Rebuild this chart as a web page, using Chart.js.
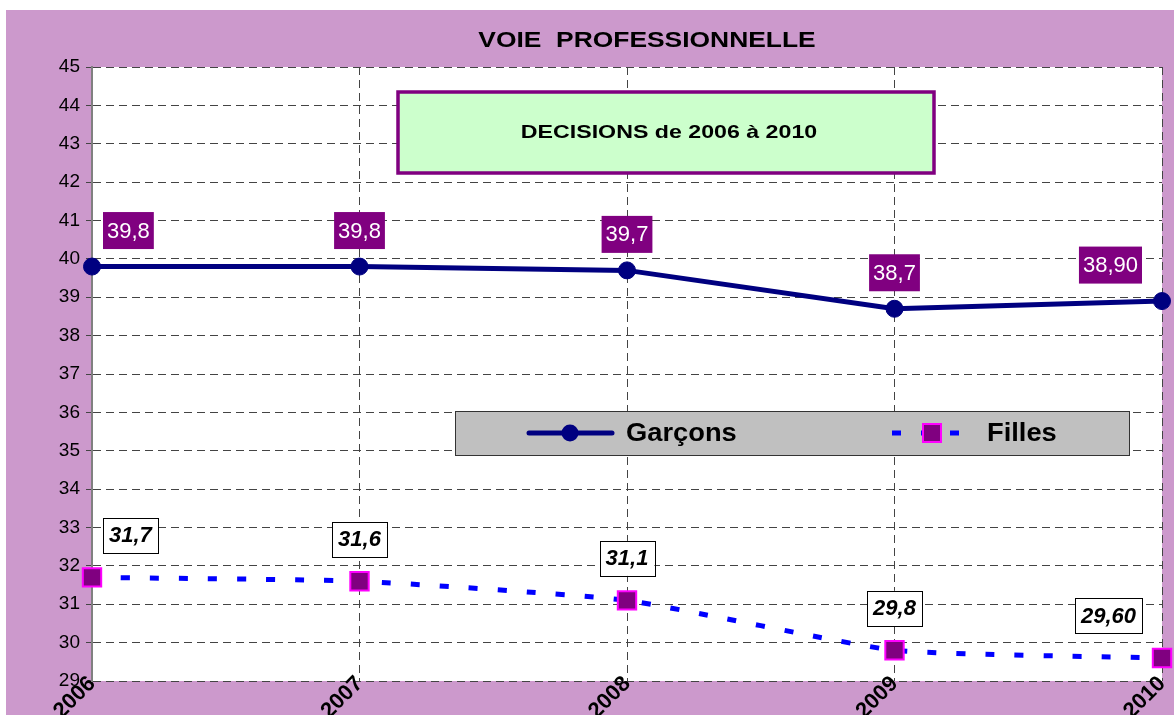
<!DOCTYPE html>
<html>
<head>
<meta charset="utf-8">
<script src="https://cdn.jsdelivr.net/npm/chart.js@4.4.1/dist/chart.umd.min.js"></script>
<style>
  html, body { margin: 0; padding: 0; background: #fff; }
  #wrap { position: absolute; left: 6px; top: 10px; width: 1168px; height: 705px; background: #cc99cc; }
</style>
</head>
<body>
<div id="wrap"><canvas id="myChart" width="1168" height="705"></canvas></div>
<script>
let years = ["2006", "2007", "2008", "2009", "2010"];
let garcons = [39.8, 39.8, 39.7, 38.7, 38.9];
let filles = [31.7, 31.6, 31.1, 29.8, 29.6];
let garconsLabels = ["39,8", "39,8", "39,7", "38,7", "38,90"];
let fillesLabels = ["31,7", "31,6", "31,1", "29,8", "29,60"];
let yMin = 29;
let yMax = 45;

let ctx = document.getElementById("myChart");
const FONT = "'Liberation Sans', Arial, sans-serif";
Chart.defaults.font.family = FONT;

// text drawn a bit wider, like the original export
function wideText(c, text, x, y, font, sx, align) {
  c.save();
  c.font = font;
  c.textAlign = align || "center";
  c.textBaseline = "middle";
  c.fillStyle = "#000";
  c.translate(x, y);
  c.scale(sx, 1);
  c.fillText(text, 0, 0);
  c.restore();
}

const bgPlugin = {
  id: "bg",
  beforeDraw(chart) {
    const { ctx: c, chartArea: a } = chart;
    c.save();
    c.fillStyle = "#fff";
    c.fillRect(a.left, a.top, a.right - a.left, a.bottom - a.top);
    c.restore();
  },
};

const labelPlugin = {
  id: "valueLabels",
  afterDatasetsDraw(chart) {
    const { ctx: c, chartArea: a } = chart;
    const sets = [
      { texts: garconsLabels, meta: chart.getDatasetMeta(0), fill: "#800080", stroke: null, color: "#fff",
        font: "22px " + FONT, padX: 4, h: 37, dy: -36 },
      { texts: fillesLabels, meta: chart.getDatasetMeta(1), fill: "#fff", stroke: "#000", color: "#000",
        font: "italic bold 22px " + FONT, padX: 6, h: 35, dy: -42 },
    ];
    sets.forEach((s) => {
      s.meta.data.forEach((pt, i) => {
        c.save();
        c.font = s.font;
        const w = c.measureText(s.texts[i]).width + s.padX * 2;
        let cx = pt.x;
        if (cx - w / 2 < a.left + 11) cx = a.left + 11 + w / 2;
        if (cx + w / 2 > a.right - 20) cx = a.right - 20 - w / 2;
        const cy = pt.y + s.dy;
        c.fillStyle = s.fill;
        c.fillRect(cx - w / 2, cy - s.h / 2, w, s.h);
        if (s.stroke) {
          c.strokeStyle = s.stroke;
          c.lineWidth = 1;
          c.strokeRect(Math.round(cx - w / 2) + 0.5, Math.round(cy - s.h / 2) + 0.5, Math.round(w), s.h);
        }
        c.fillStyle = s.color;
        c.textAlign = "center";
        c.textBaseline = "middle";
        c.fillText(s.texts[i], cx, cy + 1);
        c.restore();
      });
    });
  },
};

const boxesPlugin = {
  id: "boxes",
  afterDraw(chart) {
    const { ctx: c, chartArea: a } = chart;
    const ds = chart.data.datasets;

    // title
    wideText(c, "VOIE  PROFESSIONNELLE", (a.left + a.right) / 2 + 20, 31, "bold 22px " + FONT, 1.2);

    // DECISIONS box
    const bx = a.left + 306, by = a.top + 25, bw = 536, bh = 81;
    c.save();
    c.fillStyle = "#ccffcc";
    c.fillRect(bx, by, bw, bh);
    c.strokeStyle = "#800080";
    c.lineWidth = 3.5;
    c.strokeRect(bx, by, bw, bh);
    c.restore();
    wideText(c, "DECISIONS de 2006 à 2010", bx + bw / 2 + 3, by + bh / 2, "bold 19px " + FONT, 1.22);

    // legend box
    const lx = a.left + 363, ly = a.top + 344, lw = 674, lh = 44;
    c.save();
    c.fillStyle = "#c0c0c0";
    c.fillRect(lx, ly, lw, lh);
    c.strokeStyle = "#333";
    c.lineWidth = 1;
    c.strokeRect(lx + 0.5, ly + 0.5, lw, lh);

    const my = ly + lh / 2;
    // Garçons
    c.strokeStyle = ds[0].borderColor;
    c.lineWidth = ds[0].borderWidth;
    c.lineCap = "round";
    c.beginPath();
    c.moveTo(lx + 74, my);
    c.lineTo(lx + 157, my);
    c.stroke();
    c.fillStyle = ds[0].pointBackgroundColor;
    c.beginPath();
    c.arc(lx + 115, my, 8.5, 0, Math.PI * 2);
    c.fill();
    // Filles
    c.strokeStyle = ds[1].borderColor;
    c.lineWidth = ds[1].borderWidth;
    c.lineCap = "butt";
    c.setLineDash(ds[1].borderDash);
    c.beginPath();
    c.moveTo(lx + 437, my);
    c.lineTo(lx + 512, my);
    c.stroke();
    c.setLineDash([]);
    c.fillStyle = ds[1].pointBackgroundColor;
    c.strokeStyle = ds[1].pointBorderColor;
    c.lineWidth = 2;
    c.fillRect(lx + 468, my - 9, 18, 18);
    c.strokeRect(lx + 468, my - 9, 18, 18);
    c.restore();
    wideText(c, "Garçons", lx + 171, my + 1, "bold 26px " + FONT, 1.05, "left");
    wideText(c, "Filles", lx + 532, my + 1, "bold 26px " + FONT, 1.05, "left");
  },
};

let myChart = new Chart(ctx, {
  type: "line",
  data: {
    labels: years,
    datasets: [
      {
        label: "Garçons",
        data: garcons,
        borderColor: "#000080",
        borderWidth: 5,
        pointStyle: "circle",
        pointRadius: 8.5,
        pointBackgroundColor: "#000080",
        pointBorderColor: "#000080",
        pointBorderWidth: 1,
        tension: 0,
      },
      {
        label: "Filles",
        data: filles,
        borderColor: "#0000ff",
        borderWidth: 5,
        borderDash: [9, 20],
        pointStyle: "rect",
        pointRadius: 13,
        pointBackgroundColor: "#800080",
        pointBorderColor: "#ff00ff",
        pointBorderWidth: 2,
        tension: 0.15,
      },
    ],
  },
  options: {
    responsive: false,
    animation: false,
    clip: false,
    layout: { autoPadding: false, padding: { top: 57, right: 12, left: 0, bottom: 0 } },
    plugins: { legend: { display: false }, tooltip: { enabled: false }, title: { display: false } },
    scales: {
      x: {
        offset: false,
        grid: { color: "#444", lineWidth: 1, tickLength: 0 },
        border: { display: false, dash: [8, 5] },
        ticks: {
          color: "#000",
          autoSkip: false,
          minRotation: 45,
          maxRotation: 45,
          padding: -10,
          font: { size: 22, weight: "bold" },
        },
        afterFit(scale) { scale.height = 34; },
        // let the rotated years run over the axis line as in the original
        afterUpdate(scale) { scale._computeLabelArea = () => undefined; },
      },
      y: {
        min: yMin,
        max: yMax,
        grid: { color: "#444", lineWidth: 1, tickLength: 6 },
        border: { display: true, color: "#808080", width: 2, dash: [8, 5] },
        ticks: { stepSize: 1, color: "#000", padding: 6, font: { size: 19 } },
        afterFit(scale) { scale.width = 86; },
      },
    },
  },
  plugins: [bgPlugin, labelPlugin, boxesPlugin],
});
</script>
</body>
</html>
